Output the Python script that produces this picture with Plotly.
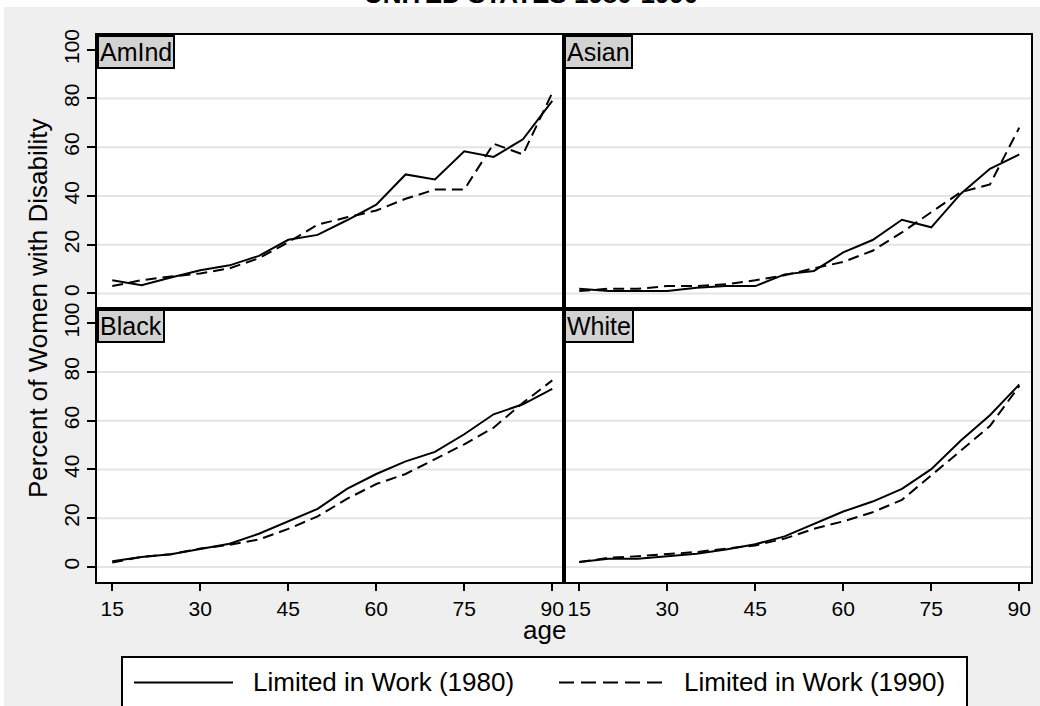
import plotly.graph_objects as go
from plotly.subplots import make_subplots

AGES = [15, 20, 25, 30, 35, 40, 45, 50, 55, 60, 65, 70, 75, 80, 85, 90]
GROUPS = ["AmInd", "Asian", "Black", "White"]
SERIES_NAMES = ["Limited in Work (1980)", "Limited in Work (1990)"]

AMIND_1980 = [5.4, 3.3, 6.5, 9.5, 11.5, 15.4, 22.0, 24.0, 30.0, 36.4, 48.8, 46.7, 58.3, 56.0, 63.2, 79.0]
AMIND_1990 = [3.0, 5.4, 6.9, 8.2, 10.3, 14.4, 21.0, 28.2, 31.2, 34.0, 38.8, 42.6, 42.6, 61.4, 57.0, 82.3]
ASIAN_1980 = [1.9, 1.0, 1.0, 1.0, 2.3, 3.0, 3.0, 7.8, 9.2, 16.8, 21.9, 30.2, 27.1, 40.8, 51.1, 57.0]
ASIAN_1990 = [1.0, 1.9, 1.9, 3.0, 3.0, 3.7, 5.4, 7.4, 10.3, 12.9, 17.5, 25.0, 33.3, 41.5, 44.7, 68.0]
BLACK_1980 = [2.3, 4.1, 5.2, 7.5, 9.5, 13.6, 18.6, 23.8, 32.0, 38.1, 43.3, 47.2, 54.4, 62.6, 66.7, 73.0]
BLACK_1990 = [1.8, 4.1, 5.2, 7.5, 9.1, 11.2, 15.6, 20.7, 27.9, 34.0, 38.1, 44.2, 50.3, 57.1, 67.3, 76.5]
WHITE_1980 = [2.0, 3.3, 3.3, 4.4, 5.4, 7.1, 9.3, 12.5, 17.7, 22.7, 26.8, 32.0, 40.1, 51.7, 62.2, 74.8]
WHITE_1990 = [2.0, 3.7, 4.4, 5.2, 6.1, 7.5, 8.8, 11.6, 15.6, 18.7, 22.4, 27.5, 37.4, 47.6, 57.8, 74.2]

DATA_1980 = [AMIND_1980, ASIAN_1980, BLACK_1980, WHITE_1980]
DATA_1990 = [AMIND_1990, ASIAN_1990, BLACK_1990, WHITE_1990]

X_TICKS = [15, 30, 45, 60, 75, 90]
Y_TICKS = [0, 20, 40, 60, 80, 100]
GRID_VALUES = [0, 20, 40, 60, 80]

FONT = "Liberation Sans, Arial, sans-serif"
BG = "#efefef"

fig = make_subplots(rows=2, cols=2, horizontal_spacing=0, vertical_spacing=0)

positions = [(1, 1), (1, 2), (2, 1), (2, 2)]
for i, (r, c) in enumerate(positions):
    fig.add_trace(go.Scatter(x=AGES, y=DATA_1980[i], mode="lines", name=SERIES_NAMES[0],
                             line=dict(color="black", width=2), showlegend=False), row=r, col=c)
    fig.add_trace(go.Scatter(x=AGES, y=DATA_1990[i], mode="lines", name=SERIES_NAMES[1],
                             line=dict(color="black", width=2, dash="11px,6px"), showlegend=False), row=r, col=c)

axis_ids = ["", "2", "3", "4"]
for i, (r, c) in enumerate(positions):
    bottom = r == 2
    left = c == 1
    fig.update_xaxes(row=r, col=c, range=[12.4, 92.0], tickvals=X_TICKS,
                     showticklabels=bottom, ticks="outside" if bottom else "",
                     ticklen=7, tickwidth=2, tickcolor="black",
                     showgrid=False, zeroline=False, showline=True, mirror=True,
                     linecolor="black", linewidth=2, automargin=False,
                     tickfont=dict(family=FONT, size=21, color="black"))
    fig.update_yaxes(row=r, col=c, range=[-6.2, 106], tickvals=Y_TICKS,
                     showticklabels=left, ticks="outside" if left else "",
                     ticklen=8, tickwidth=2, tickcolor="black", tickangle=-90,
                     showgrid=False, zeroline=False, showline=True, mirror=True,
                     linecolor="black", linewidth=2, automargin=False,
                     tickfont=dict(family=FONT, size=21, color="black"))
    aid = axis_ids[i]
    for g in GRID_VALUES:
        fig.add_shape(type="line", xref=f"x{aid} domain", yref=f"y{aid}", x0=0, x1=1, y0=g, y1=g,
                      line=dict(color="#e4e4e4", width=2), layer="below")
    fig.add_annotation(xref=f"x{aid} domain", yref=f"y{aid} domain", x=0, y=1,
                       xanchor="left", yanchor="top", text=GROUPS[i], showarrow=False,
                       font=dict(family=FONT, size=25, color="black"),
                       bgcolor="#d2d2d2", bordercolor="black", borderwidth=2, borderpad=1)

W, H = 1040, 706
L, R, T, B = 97, 9, 35, 124
PW, PH = W - L - R, H - T - B


def px(xp):
    return (xp - L) / PW


def py(yp):
    return (H - B - yp) / PH


# white frame strips (top and left)
fig.add_shape(type="rect", xref="paper", yref="paper", x0=px(0), x1=px(W), y0=py(0), y1=py(7),
              fillcolor="white", line=dict(width=0), layer="below")
fig.add_shape(type="rect", xref="paper", yref="paper", x0=px(0), x1=px(4), y0=py(0), y1=py(H),
              fillcolor="white", line=dict(width=0), layer="below")

# title
fig.add_annotation(xref="paper", yref="paper", x=px(531), y=py(11.5), xanchor="center", yanchor="bottom",
                   text="<b>UNITED STATES 1980-1990</b>", showarrow=False,
                   font=dict(family=FONT, size=26, color="black"))
# axis titles
fig.add_annotation(xref="paper", yref="paper", x=px(544), y=py(630), xanchor="center", yanchor="middle",
                   text="age", showarrow=False, font=dict(family=FONT, size=26, color="black"))
fig.add_annotation(xref="paper", yref="paper", x=px(38), y=py(308), xanchor="center", yanchor="middle",
                   text="Percent of Women with Disability", textangle=-90, showarrow=False,
                   font=dict(family=FONT, size=26, color="black"))

# legend box
fig.add_shape(type="rect", xref="paper", yref="paper", x0=px(122), x1=px(967), y0=py(657), y1=py(730),
              fillcolor="white", line=dict(color="black", width=2))
fig.add_shape(type="line", xref="paper", yref="paper", x0=px(134), x1=px(233), y0=py(682.5), y1=py(682.5),
              line=dict(color="black", width=2))
fig.add_shape(type="line", xref="paper", yref="paper", x0=px(559), x1=px(665), y0=py(682.5), y1=py(682.5),
              line=dict(color="black", width=2, dash="15px,7px"))
fig.add_annotation(xref="paper", yref="paper", x=px(251), y=py(682), xanchor="left", yanchor="middle",
                   text=SERIES_NAMES[0], showarrow=False, font=dict(family=FONT, size=26, color="black"))
fig.add_annotation(xref="paper", yref="paper", x=px(682), y=py(682), xanchor="left", yanchor="middle",
                   text=SERIES_NAMES[1], showarrow=False, font=dict(family=FONT, size=26, color="black"))

fig.update_layout(width=W, height=H, margin=dict(l=L, r=R, t=T, b=B, autoexpand=False),
                  paper_bgcolor=BG, plot_bgcolor="white", showlegend=False,
                  font=dict(family=FONT, color="black"))

fig.write_html("out.html")
